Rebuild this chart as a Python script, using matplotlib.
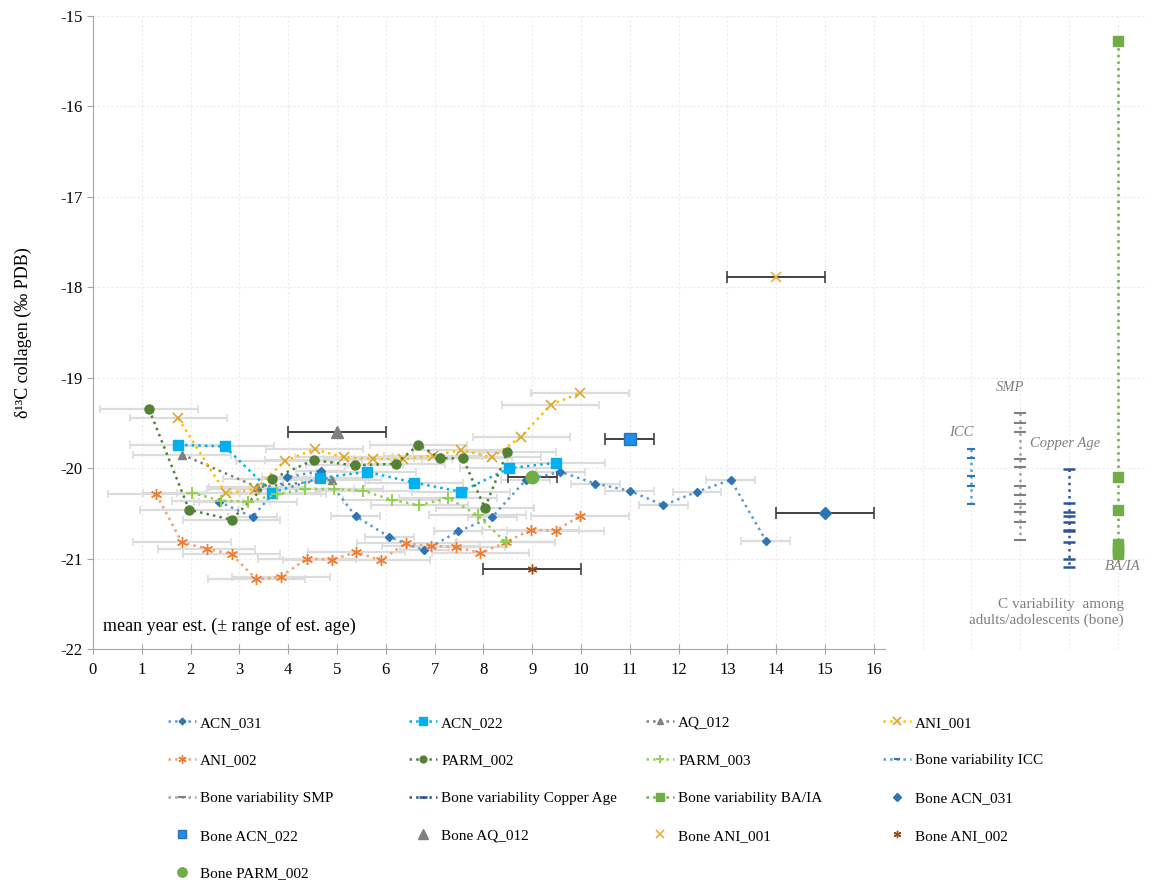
import numpy as np
import matplotlib
matplotlib.use("Agg")
import matplotlib.pyplot as plt

plt.rcParams["font.family"] = ["Liberation Serif", "DejaVu Serif"]
plt.rcParams["axes.unicode_minus"] = False

# series: mean age (years) and d13C collagen
acn031_x = [2.58, 3.27, 3.97, 4.67, 5.38, 6.07, 6.79, 7.48, 8.18, 8.87, 9.58, 10.29, 11.0, 11.69, 12.38, 13.07, 13.79]
acn031_y = [-20.37, -20.54, -20.10, -20.03, -20.53, -20.76, -20.91, -20.70, -20.54, -20.13, -20.04, -20.17, -20.25, -20.41, -20.26, -20.13, -20.80]
acn031_err = 0.5

acn022_x = [1.75, 2.70, 3.67, 4.65, 5.62, 6.58, 7.54, 8.53, 9.49]
acn022_y = [-19.74, -19.76, -20.27, -20.11, -20.04, -20.16, -20.26, -20.00, -19.94]

aq012_x = [1.83, 3.37, 4.90]
aq012_y = [-19.85, -20.21, -20.13]

ani001_x = [1.75, 2.72, 3.33, 3.93, 4.54, 5.14, 5.74, 6.35, 6.97, 7.55, 8.18, 8.78, 9.38, 9.98]
ani001_y = [-19.45, -20.28, -20.23, -19.92, -19.79, -19.88, -19.90, -19.90, -19.86, -19.80, -19.88, -19.65, -19.30, -19.17]

ani002_x = [1.30, 1.82, 2.33, 2.84, 3.35, 3.85, 4.38, 4.89, 5.40, 5.90, 6.41, 6.93, 7.44, 7.94, 8.46, 8.97, 9.48, 9.98]
ani002_y = [-20.29, -20.82, -20.89, -20.95, -21.23, -21.20, -21.00, -21.01, -20.93, -21.02, -20.83, -20.86, -20.87, -20.94, -20.82, -20.68, -20.69, -20.53]

parm002_x = [1.15, 1.97, 2.84, 3.66, 4.52, 5.36, 6.21, 6.67, 7.11, 7.58, 8.03, 8.49]
parm002_y = [-19.35, -20.46, -20.57, -20.12, -19.91, -19.97, -19.95, -19.74, -19.89, -19.89, -20.44, -19.82]

parm003_x = [2.02, 2.62, 3.18, 3.78, 4.34, 4.94, 5.54, 6.12, 6.69, 7.28, 7.88, 8.46]
parm003_y = [-20.27, -20.36, -20.37, -20.29, -20.23, -20.23, -20.25, -20.35, -20.41, -20.33, -20.52, -20.82]

tooth_err = 1.0

# adult/adolescent bone variability columns
icc_y = [-19.79, -19.89, -20.09, -20.20, -20.40]
smp_y = [-19.39, -19.50, -19.60, -19.90, -19.99, -20.20, -20.30, -20.40, -20.49, -20.59, -20.79]
copper_y = [-20.01, -20.39, -20.49, -20.53, -20.60, -20.68, -20.69, -20.82, -21.00, -21.09]
baia_y = [-15.28, -20.10, -20.46, -20.84, -20.88, -20.92, -20.95]
var_pos = [18, 19, 20, 21]

# bone values of the individuals: x, y, xerr
bone_acn031 = [15.0, -20.50, 1.0]
bone_acn022 = [11.0, -19.68, 0.5]
bone_aq012 = [5.0, -19.60, 1.0]
bone_ani001 = [14.0, -17.89, 1.0]
bone_ani002 = [9.0, -21.12, 1.0]
bone_parm002 = [9.0, -20.10, 0.5]

xticks = list(range(0, 17))
yticks = list(range(-22, -14))

fig = plt.figure(figsize=(11.58, 8.81), dpi=100)
ax = fig.add_axes([0.0803, 0.2633, 0.9102, 0.7185])

star = (6, 2, 0)
series = [
    ("ACN_031", acn031_x, acn031_y, acn031_err, dict(color="#5b9bd5", marker="D", ms=4.5, mfc="#2e75b6", mec="#2e75b6")),
    ("ACN_022", acn022_x, acn022_y, tooth_err, dict(color="#00b0f0", marker="s", ms=7)),
    ("AQ_012", aq012_x, aq012_y, tooth_err, dict(color="#808080", marker="^", ms=6)),
    ("ANI_001", ani001_x, ani001_y, tooth_err, dict(color="#ffc000", marker="x", ms=7, mew=1.2, mec="#d9a62e")),
    ("ANI_002", ani002_x, ani002_y, tooth_err, dict(color="#f4a070", marker=star, ms=8, mew=1.0, mec="#ed7d31")),
    ("PARM_002", parm002_x, parm002_y, tooth_err, dict(color="#548235", marker="o", ms=6.5)),
    ("PARM_003", parm003_x, parm003_y, tooth_err, dict(color="#92d050", marker="+", ms=8, mew=1.4)),
]

handles = {}
for name, x, y, err, style in series:
    ax.errorbar(x, y, xerr=err, fmt="none", ecolor="#dcdcdc", elinewidth=1.6,
                capsize=3, capthick=1.2, zorder=1)
    (h,) = ax.plot(x, y, ls=":", lw=1.8, label=name, zorder=3, **style)
    handles[name] = h

var_series = [
    ("Bone variability ICC", icc_y, dict(color="#5b9bd5", mfc="#2e75b6", mec="#2e75b6", ms=6, mew=1.5)),
    ("Bone variability SMP", smp_y, dict(color="#a0a0a0", mfc="#7f7f7f", mec="#7f7f7f", ms=8, mew=1.5)),
    ("Bone variability Copper Age", copper_y, dict(color="#2f5597", ms=8, mew=1.8)),
]
for (name, y, style), pos in zip(var_series, var_pos):
    (h,) = ax.plot([pos] * len(y), y, ls=":", lw=1.8, marker="_", label=name, zorder=3, **style)
    handles[name] = h
(h,) = ax.plot([var_pos[3]] * len(baia_y), baia_y, ls=":", lw=1.8, color="#70ad47",
               marker="s", ms=7, label="Bone variability BA/IA", zorder=3)
handles["Bone variability BA/IA"] = h

bones = [
    ("Bone ACN_031", bone_acn031, dict(color="#2e75b6", marker="D", ms=6)),
    ("Bone ACN_022", bone_acn022, dict(color="#1e8fe6", marker="s", ms=8, mec="#2e6fc0")),
    ("Bone AQ_012", bone_aq012, dict(color="#808080", marker="^", ms=9)),
    ("Bone ANI_001", bone_ani001, dict(color="#e8b040", marker="x", ms=7, mew=1.2)),
    ("Bone ANI_002", bone_ani002, dict(color="#9e480e", marker=star, ms=7, mew=1.0)),
    ("Bone PARM_002", bone_parm002, dict(color="#70ad47", marker="o", ms=9)),
]
for name, (bx, by, be), style in bones:
    ax.errorbar([bx], [by], xerr=be, fmt="none", ecolor="#404040", elinewidth=1.4,
                capsize=4, capthick=1.2, zorder=2)
    (h,) = ax.plot([bx], [by], ls="none", label=name, zorder=4, **style)
    handles[name] = h

# labels of the variability columns
lab = dict(style="italic", color="#7f7f7f", fontsize=10.5, ha="center", va="center")
ax.text(17.8, -19.61, "ICC", **lab)
ax.text(18.8, -19.11, "SMP", **lab)
ax.text(19.93, -19.73, "Copper Age", **lab)
ax.text(21.1, -21.09, "BA/IA", **lab)
ax.text(21.13, -21.6, "C variability  among\nadults/adolescents (bone)", color="#7f7f7f",
        fontsize=11, ha="right", va="center", multialignment="right", linespacing=1.25)
ax.text(0.2, -21.75, "mean year est. (± range of est. age)", fontsize=13, ha="left", va="center")

ax.set_xlim(0, 21.6)
ax.set_ylim(-22, -15)
ax.set_xticks(xticks)
ax.set_xticks([17, 18, 19, 20, 21], minor=True)
ax.set_yticks(yticks)
ax.tick_params(axis="x", which="major", direction="inout", length=7, color="#a6a6a6", labelsize=12, pad=6)
ax.tick_params(axis="x", which="minor", length=0)
ax.tick_params(axis="y", direction="out", length=4, color="#a6a6a6", labelsize=12)
ax.grid(True, which="both", color="#ebebeb", lw=0.8, ls=(0, (2, 2)))
ax.set_axisbelow(True)
for s in ["top", "right"]:
    ax.spines[s].set_visible(False)
ax.spines["left"].set_color("#a6a6a6")
ax.spines["bottom"].set_color("#a6a6a6")
ax.spines["bottom"].set_bounds(0, 16.23)
ax.set_ylabel("δ¹³C collagen (‰ PDB)", fontsize=13)
ax.yaxis.set_label_coords(-0.058, 0.5)

# legend laid out in rows like the original, one legend per column
order = ["ACN_031", "ACN_022", "AQ_012", "ANI_001",
         "ANI_002", "PARM_002", "PARM_003", "Bone variability ICC",
         "Bone variability SMP", "Bone variability Copper Age", "Bone variability BA/IA", "Bone ACN_031",
         "Bone ACN_022", "Bone AQ_012", "Bone ANI_001", "Bone ANI_002",
         "Bone PARM_002"]
col_x = [168, 409, 646, 883]
for c in range(4):
    names = order[c::4]
    fig.legend([handles[n] for n in names], names, loc="upper left",
               bbox_to_anchor=(col_x[c] / 1158, 1 - 716 / 881), frameon=False,
               fontsize=11, borderpad=0, handlelength=1.85, handletextpad=0.25,
               labelspacing=1.57, borderaxespad=0, markerscale=0.75)

fig.savefig("out.png", dpi=100)
